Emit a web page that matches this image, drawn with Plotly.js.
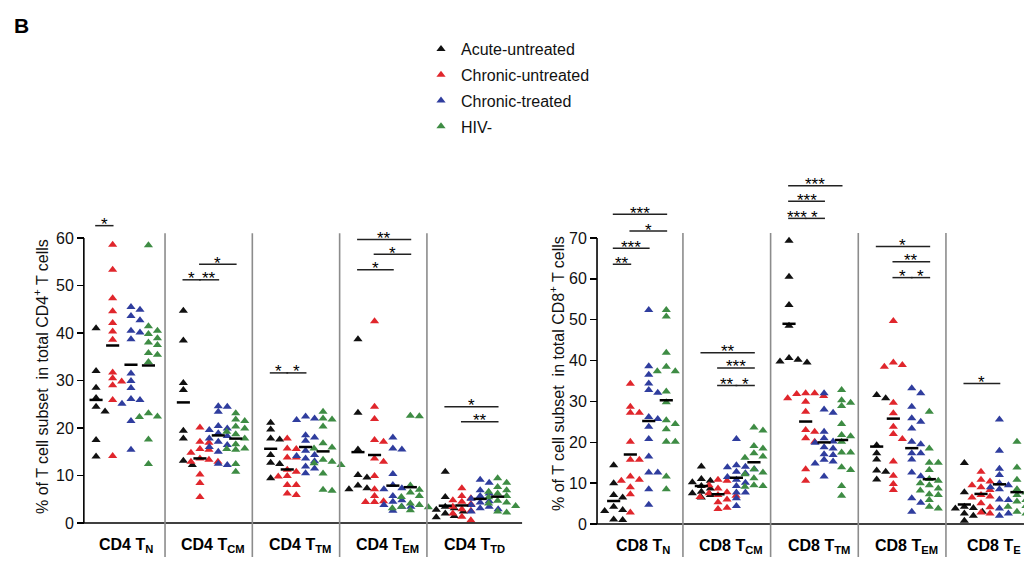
<!DOCTYPE html>
<html><head><meta charset="utf-8">
<script src="https://cdn.plot.ly/plotly-3.0.1.min.js"></script>
<style>html,body{margin:0;padding:0;background:#fff}#chart{width:1024px;height:561px}</style>
</head><body><div id="chart"></div>
<script>
// ---------------- data ----------------
const seriesNames = ['Acute-untreated', 'Chronic-untreated', 'Chronic-treated', 'HIV-'];
const seriesColors = ['#111111', '#e0262c', '#2f3d9e', '#3e8c44'];

const cd4Labels = ['CD4 T<sub>N</sub>', 'CD4 T<sub>CM</sub>', 'CD4 T<sub>TM</sub>', 'CD4 T<sub>EM</sub>', 'CD4 T<sub>TD</sub>'];
const cd8Labels = ['CD8 T<sub>N</sub>', 'CD8 T<sub>CM</sub>', 'CD8 T<sub>TM</sub>', 'CD8 T<sub>EM</sub>', 'CD8 T<sub>E</sub>'];
const cd4Ticks = [0, 10, 20, 30, 40, 50, 60];
const cd8Ticks = [0, 10, 20, 30, 40, 50, 60, 70];

// CD4 (% of total CD4+ T cells), one inner list per subset: TN, TCM, TTM, TEM, TTD
const cd4Acute = [
  [41.0, 32.0, 28.5, 26.3, 24.5, 23.5, 17.5, 14.0],
  [44.7, 38.4, 29.5, 28.0, 19.4, 17.8, 13.1, 12.2],
  [21.1, 19.7, 17.8, 17.6, 14.3, 12.7, 12.4, 9.4],
  [38.7, 23.2, 15.5, 10.1, 9.6, 7.9, 7.3, 7.1],
  [10.8, 5.5, 3.4, 3.1, 2.8, 2.4, 2.0, 1.5, 1.2]
];
const cd4ChronicUntreated = [
  [58.6, 53.3, 47.3, 44.6, 42.1, 40.3, 38.6, 31.7, 30.5, 29.8, 29.0, 25.9, 14.1],
  [20.1, 17.1, 16.9, 15.6, 15.4, 14.8, 13.6, 13.3, 12.9, 12.9, 10.2, 8.4, 5.5],
  [17.8, 15.7, 15.6, 13.8, 13.8, 11.2, 10.8, 9.9, 9.8, 8.0, 8.0, 6.2, 5.9],
  [42.5, 24.5, 21.9, 17.5, 17.1, 13.6, 12.9, 9.9, 7.1, 5.7, 4.6, 4.4, 4.4],
  [7.3, 5.7, 5.2, 4.8, 4.5, 4.0, 3.4, 2.9, 2.6, 2.0, 1.3, 0.6]
];
const cd4ChronicTreated = [
  [45.5, 44.9, 43.6, 42.7, 40.5, 40.1, 38.7, 31.5, 29.9, 28.4, 26.1, 25.9, 25.1, 21.5, 15.4],
  [24.6, 24.5, 23.4, 20.4, 19.9, 19.6, 18.9, 18.3, 17.8, 17.1, 16.4, 16.0, 15.0, 12.5, 12.2],
  [22.4, 22.0, 21.7, 18.5, 18.0, 17.3, 15.2, 14.3, 14.1, 13.6, 13.0, 11.9, 11.5, 10.5],
  [18.0, 15.7, 15.5, 10.3, 8.0, 7.3, 7.1, 5.7, 4.8, 4.5, 3.8, 3.4, 3.4, 2.6],
  [9.1, 8.5, 6.9, 6.2, 5.7, 5.1, 4.6, 4.3, 3.8, 3.4, 3.1, 2.9, 2.4]
];
const cd4HivNeg = [
  [58.5, 41.4, 40.5, 39.8, 38.9, 38.0, 37.5, 35.8, 35.4, 33.9, 23.1, 22.4, 22.3, 17.6, 12.4],
  [23.1, 21.8, 21.5, 20.3, 19.9, 19.2, 18.7, 17.8, 16.6, 15.7, 15.6, 15.4, 12.4, 10.8],
  [23.4, 22.0, 21.8, 20.3, 16.8, 15.9, 15.7, 13.3, 12.9, 12.6, 12.2, 10.4, 7.0, 6.8],
  [22.6, 22.5, 7.9, 7.0, 6.4, 5.7, 5.5, 4.1, 3.8, 3.4, 3.3, 3.1, 2.7],
  [9.4, 8.5, 7.6, 6.9, 6.6, 6.2, 5.7, 5.4, 4.7, 4.3, 4.1, 3.6, 2.4, 2.2]
];

// CD8 (% of total CD8+ T cells): TN, TCM, TTM, TEM, TE
const cd8Acute = [
  [14.4, 10.0, 7.1, 6.5, 4.2, 3.4, 3.2, 1.1, 1.0],
  [14.1, 11.0, 10.6, 10.2, 9.3, 8.7, 7.9, 7.5, 7.1, 6.5],
  [69.3, 60.5, 53.6, 48.5, 40.6, 40.2, 39.8, 39.5],
  [31.6, 30.8, 19.3, 17.3, 15.8, 13.1, 12.8, 10.9],
  [14.9, 7.8, 4.2, 3.9, 3.8, 3.0, 2.6, 2.0, 0.8]
];
const cd8ChronicUntreated = [
  [34.3, 28.7, 27.2, 27.2, 20.1, 15.7, 15.7, 11.6, 10.8, 10.6, 9.0, 7.3, 2.8],
  [10.8, 10.6, 9.5, 8.7, 7.8, 7.5, 7.1, 6.9, 6.6, 6.0, 5.3, 4.0, 3.7],
  [32.0, 32.0, 31.8, 31.3, 30.8, 29.9, 27.5, 23.0, 22.6, 21.0, 20.1, 13.4, 10.6],
  [49.7, 39.5, 38.9, 38.5, 29.7, 27.1, 23.8, 22.0, 20.8, 15.3, 11.8, 9.8, 8.3],
  [12.8, 10.8, 10.4, 9.5, 9.0, 8.3, 7.1, 6.7, 6.5, 5.1, 4.1, 2.8, 2.6]
];
const cd8ChronicTreated = [
  [52.4, 38.6, 36.5, 34.4, 32.8, 32.1, 26.2, 25.7, 23.8, 20.8, 16.5, 12.6, 12.6, 8.5, 4.7],
  [20.8, 14.4, 14.0, 13.9, 13.4, 12.8, 12.4, 11.5, 10.8, 10.1, 9.3, 7.7, 7.7, 6.3, 4.4],
  [32.0, 28.0, 27.2, 22.6, 21.0, 20.2, 19.9, 18.8, 18.5, 17.1, 16.9, 15.7, 15.3, 14.8, 11.6],
  [33.2, 32.0, 28.7, 25.9, 25.0, 23.4, 20.1, 19.5, 17.3, 17.3, 15.8, 12.6, 11.7, 6.3, 5.2, 3.0],
  [25.6, 17.9, 13.5, 12.0, 10.0, 9.5, 9.0, 8.5, 6.0, 5.9, 3.8, 2.6, 2.0]
];
const cd8HivNeg = [
  [52.4, 50.8, 41.9, 38.5, 37.4, 37.4, 32.4, 29.8, 25.4, 24.5, 23.2, 20.1, 20.1, 11.6, 8.5],
  [23.6, 22.9, 19.1, 18.5, 17.3, 16.5, 16.2, 13.4, 12.6, 12.2, 11.2, 9.5, 9.3, 9.1],
  [32.8, 30.3, 29.7, 28.9, 24.5, 21.8, 21.5, 20.1, 17.5, 17.5, 13.9, 13.2, 9.3, 6.9],
  [27.5, 18.5, 15.0, 15.0, 13.2, 11.0, 10.6, 10.0, 9.5, 8.7, 8.2, 7.3, 7.1, 5.9, 4.2, 3.8],
  [20.1, 13.8, 10.8, 8.5, 7.7, 7.1, 5.9, 5.5, 4.4, 4.2, 3.0, 2.6]
];

// significance brackets: [subset index, group A, group B, level, label]
const cd4Sig = [
  [0, 0, 1, 62.6, '*'],
  [1, 0, 1, 51.2, '*'], [1, 1, 2, 51.2, '**'], [1, 1, 3, 54.5, '*'],
  [2, 0, 1, 31.6, '*'], [2, 1, 2, 31.6, '*'],
  [3, 0, 3, 59.7, '**'], [3, 1, 3, 56.6, '*'], [3, 0, 2, 53.3, '*'],
  [4, 0, 3, 24.5, '*'], [4, 1, 3, 21.3, '**']
];
const cd8Sig = [
  [0, 0, 3, 75.8, '***'], [0, 1, 3, 71.7, '*'], [0, 0, 2, 67.5, '***'], [0, 0, 1, 63.6, '**'],
  [1, 0, 3, 41.9, '**'], [1, 1, 3, 38.2, '***'], [1, 1, 2, 33.9, '**'], [1, 2, 3, 33.9, '*'],
  [2, 0, 3, 82.8, '***'], [2, 0, 2, 79.0, '***'], [2, 0, 1, 74.8, '***'], [2, 1, 2, 74.8, '*'],
  [3, 0, 3, 67.9, '*'], [3, 1, 3, 64.2, '**'], [3, 1, 2, 60.3, '*'], [3, 2, 3, 60.3, '*'],
  [4, 0, 2, 34.4, '*']
];

// ---------------- layout geometry ----------------
const W = 1024, H = 561;
const FONT = 'Liberation Sans, Arial, Helvetica, sans-serif';
const seriesOffset = [-0.29, -0.1, 0.11, 0.31];

const panels = [
  { sets: [cd4Acute, cd4ChronicUntreated, cd4ChronicTreated, cd4HivNeg], sig: cd4Sig, labels: cd4Labels,
    ticks: cd4Ticks, xa: 'x', ya: 'y', pxX: 87.3, zeroPx: 523, pxY: 4.75, axisX: -0.43, axisEnd: 4.59,
    xr: [-0.6, 4.7], xStartPx: 69, yTop: 60, sepTop: 61.0, axisPx: 84,
    title: '% of T cell subset\u00a0 in total CD4<sup>+</sup> T cells', titlePx: 41, titleY: 377, labelY: -4.8 },
  { sets: [cd8Acute, cd8ChronicUntreated, cd8ChronicTreated, cd8HivNeg], sig: cd8Sig, labels: cd8Labels,
    ticks: cd8Ticks, xa: 'x2', ya: 'y2', pxX: 87.67, zeroPx: 524, pxY: 4.086, axisX: -0.48, axisEnd: 4.6,
    xr: [-0.6, 4.39], xStartPx: 586.5, yTop: 70, sepTop: 71.2, axisPx: 597,
    title: '% of T cell subset\u00a0 in total CD8<sup>+</sup> T cells', titlePx: 557, titleY: 374, labelY: -5.4 }
];

// simple beeswarm: spread overlapping points horizontally (pixel space)
function swarm(vals, center, pxX, pxY) {
  const order = vals.map((v, i) => i).sort((a, b) => vals[b] - vals[a]);
  const placed = [], xs = new Array(vals.length);
  const CW = 7.5, CH = 5.5, STEP = 4.5;
  for (const i of order) {
    const py = vals[i] * pxY;
    let off = 0;
    for (let t = 0; t < 60; t++) {
      off = t === 0 ? 0 : (t % 2 ? 1 : -1) * Math.ceil(t / 2) * STEP;
      if (!placed.some(p => Math.abs(p.x - off) < CW && Math.abs(p.y - py) < CH)) break;
    }
    placed.push({ x: off, y: py });
    xs[i] = center + off / pxX;
  }
  return xs;
}
const mean = a => a.reduce((s, v) => s + v, 0) / a.length;

const traces = [], shapes = [], annotations = [];
const layout = {
  width: W, height: H, margin: { l: 0, r: 0, t: 0, b: 0 },
  paper_bgcolor: '#ffffff', plot_bgcolor: 'rgba(0,0,0,0)',
  showlegend: true,
  legend: { x: 421 / W, xanchor: 'left', y: 1 - 32 / H, yanchor: 'top', font: { family: FONT, size: 16, color: '#111' },
            bgcolor: 'rgba(0,0,0,0)', itemwidth: 30, tracegroupgap: 2 },
  font: { family: FONT, color: '#111' }
};

panels.forEach((P, pi) => {
  const axX = pi === 0 ? 'xaxis' : 'xaxis2';
  const axY = pi === 0 ? 'yaxis' : 'yaxis2';
  const xEndPx = P.xStartPx + (P.xr[1] - P.xr[0]) * P.pxX;
  layout[axX] = { domain: [P.xStartPx / W, Math.min(1, xEndPx / W)], range: P.xr, anchor: P.ya,
    showgrid: false, zeroline: false, showticklabels: false, ticks: '', showline: false, fixedrange: true };
  const yBottom = (P.zeroPx - H) / P.pxY, yTopR = P.zeroPx / P.pxY;
  layout[axY] = { domain: [0, 1], range: [yBottom, yTopR], anchor: 'free', position: P.axisPx / W,
    tickvals: P.ticks, ticktext: P.ticks.map(String), ticks: 'outside', ticklen: 7, tickwidth: 1.5, tickcolor: '#000',
    showgrid: false, zeroline: false, showline: false, fixedrange: true,
    tickfont: { family: FONT, size: 16, color: '#111' } };

  // points
  P.sets.forEach((set, s) => {
    const xs = [], ys = [];
    set.forEach((vals, g) => {
      const sx = swarm(vals, g + seriesOffset[s], P.pxX, P.pxY);
      vals.forEach((v, k) => { xs.push(sx[k]); ys.push(v); });
    });
    traces.push({ type: 'scatter', mode: 'markers', x: xs, y: ys, xaxis: P.xa, yaxis: P.ya,
      name: seriesNames[s], legendgroup: seriesNames[s], showlegend: pi === 0,
      marker: { symbol: 'triangle-up', size: 8, color: seriesColors[s], line: { width: 0 } },
      hoverinfo: 'y+name' });
  });

  // mean lines
  const mx = [], my = [];
  P.sets.forEach((set, s) => set.forEach((vals, g) => {
    const c = g + seriesOffset[s], m = mean(vals);
    mx.push(c - 0.075, c + 0.075, null); my.push(m, m, null);
  }));
  traces.push({ type: 'scatter', mode: 'lines', x: mx, y: my, xaxis: P.xa, yaxis: P.ya, showlegend: false,
    hoverinfo: 'skip', line: { color: '#000', width: 2.5 } });

  // significance bars
  const bx = [], by = [];
  P.sig.forEach(([g, a, b, lvl, lab]) => {
    const x0 = g + seriesOffset[a] - 0.01, x1 = g + seriesOffset[b] + 0.01;
    bx.push(x0, x1, null); by.push(lvl, lvl, null);
    annotations.push({ xref: P.xa, yref: P.ya, x: (x0 + x1) / 2, y: lvl, xanchor: 'center', yanchor: 'middle', yshift: 1,
      text: lab, showarrow: false, font: { family: FONT, size: 17, color: '#000' } });
  });
  traces.push({ type: 'scatter', mode: 'lines', x: bx, y: by, xaxis: P.xa, yaxis: P.ya, showlegend: false,
    hoverinfo: 'skip', line: { color: '#222', width: 1.5 } });

  // axis lines and separators
  shapes.push({ type: 'line', xref: P.xa, yref: P.ya, x0: P.axisX, x1: P.axisX, y0: 0, y1: P.yTop,
    line: { color: '#000', width: 1.6 } });
  shapes.push({ type: 'line', xref: P.xa, yref: P.ya, x0: P.axisX, x1: P.axisEnd, y0: 0, y1: 0,
    line: { color: '#000', width: 1.6 } });
  for (let g = 0; g < 4; g++) {
    shapes.push({ type: 'line', xref: P.xa, yref: P.ya, x0: g + 0.5, x1: g + 0.5, y0: (P.zeroPx - 557) / P.pxY, y1: P.sepTop,
      line: { color: '#8c8c8c', width: 1.6 } });
  }
  // category labels
  P.labels.forEach((lab, g) => annotations.push({ xref: P.xa, yref: P.ya, x: g + 0.05, y: P.labelY,
    xanchor: 'center', yanchor: 'middle',
    text: '<b>' + lab + '</b>', showarrow: false, font: { family: FONT, size: 16, color: '#000' } }));
  // y title
  annotations.push({ xref: 'paper', yref: 'paper', x: P.titlePx / W, y: 1 - P.titleY / H, textangle: -90,
    xanchor: 'center', yanchor: 'middle',
    text: P.title, showarrow: false, font: { family: FONT, size: 16, color: '#111' } });
});

annotations.push({ xref: 'paper', yref: 'paper', x: 12 / W, y: 1 - 12 / H, xanchor: 'left', yanchor: 'top',
  text: '<b>B</b>', showarrow: false, font: { family: FONT, size: 21, color: '#000' } });

layout.shapes = shapes;
layout.annotations = annotations;

Plotly.newPlot('chart', traces, layout, { displayModeBar: false, staticPlot: true });
</script></body></html>
